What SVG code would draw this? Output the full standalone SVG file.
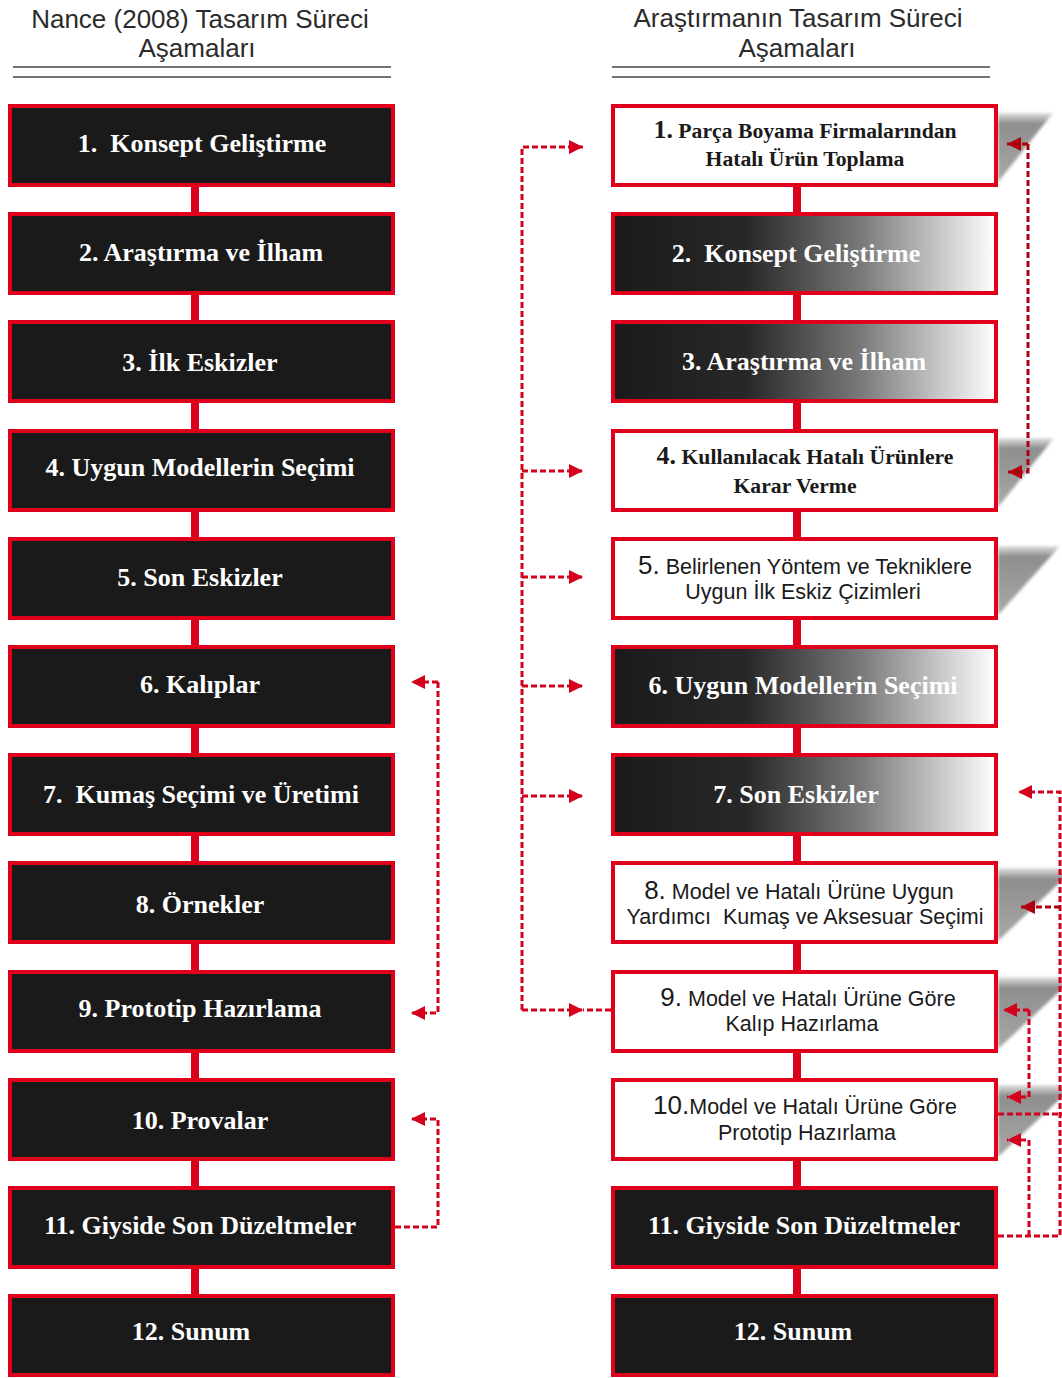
<svg xmlns="http://www.w3.org/2000/svg" width="1062" height="1378" viewBox="0 0 1062 1378">
<style>
text{white-space:pre}
.hdr{font-family:"Liberation Sans",Arial,sans-serif;font-size:26px;fill:#2b2b2b;text-anchor:middle}
.hl{stroke:#444;stroke-width:1.3}
.bx{fill:#1a1a1a;stroke:#e0001b;stroke-width:4}
.gx{fill:url(#gr);stroke:#e0001b;stroke-width:4}
.wx{fill:#fff;stroke:#e0001b;stroke-width:4}
.tw{font-family:"Liberation Serif","Times New Roman",serif;font-weight:bold;font-size:26px;fill:#fff;text-anchor:middle}
.tb{font-family:"Liberation Serif","Times New Roman",serif;font-weight:bold;font-size:21.7px;fill:#1a1a1a;text-anchor:middle}
.ts{font-family:"Liberation Sans",Arial,sans-serif;font-size:21.5px;fill:#1a1a1a;text-anchor:middle}
.big{font-size:26px}
.bar{fill:#d8001a}
.sh{fill:url(#sg);filter:url(#bl)}
.d{fill:none;stroke:#d4001c;stroke-width:3;stroke-dasharray:6 3}
.dd{fill:none;stroke:#b0000f;stroke-width:3;stroke-dasharray:6 3}
</style>
<defs>
<linearGradient id="gr" x1="0" y1="0" x2="1" y2="0">
<stop offset="0" stop-color="#1a1a1a"/>
<stop offset="0.35" stop-color="#282828"/>
<stop offset="0.65" stop-color="#7a7a7a"/>
<stop offset="1" stop-color="#ffffff"/>
</linearGradient>
<linearGradient id="sg" x1="0" y1="0" x2="0" y2="1">
<stop offset="0" stop-color="#e2e2e2"/>
<stop offset="0.15" stop-color="#8e8e8e"/>
<stop offset="1" stop-color="#a8a8a8"/>
</linearGradient>
<filter id="bl" x="-20%" y="-20%" width="140%" height="140%"><feGaussianBlur stdDeviation="1.8"/></filter>
<marker id="ar" markerUnits="userSpaceOnUse" markerWidth="14" markerHeight="14" refX="14" refY="7" orient="auto"><path d="M0,0 L14,7 L0,14 z" fill="#d4001c"/></marker>
<marker id="ard" markerUnits="userSpaceOnUse" markerWidth="14" markerHeight="14" refX="14" refY="7" orient="auto"><path d="M0,0 L14,7 L0,14 z" fill="#b0000f"/></marker>
</defs>
<rect width="1062" height="1378" fill="#fff"/>

<g id="header-left">
<text class="hdr" x="200" y="28">Nance (2008) Tasarım Süreci</text>
<text class="hdr" x="197" y="57">Aşamaları</text>
<line class="hl" x1="13" y1="67" x2="391" y2="67"/>
<line class="hl" x1="13" y1="77" x2="391" y2="77"/>
</g>
<g id="header-right">
<text class="hdr" x="798" y="27">Araştırmanın Tasarım Süreci</text>
<text class="hdr" x="797" y="57">Aşamaları</text>
<line class="hl" x1="612" y1="67" x2="990" y2="67"/>
<line class="hl" x1="612" y1="77" x2="990" y2="77"/>
</g>

<g id="L1"><rect class="bx" x="10" y="106" width="383" height="79"/><text class="tw" x="202" y="152">1.  Konsept Geliştirme</text></g>
<g id="L2"><rect class="bx" x="10" y="214" width="383" height="79"/><text class="tw" x="201" y="261">2. Araştırma ve İlham</text></g>
<g id="L3"><rect class="bx" x="10" y="322" width="383" height="79"/><text class="tw" x="200" y="371">3. İlk Eskizler</text></g>
<g id="L4"><rect class="bx" x="10" y="431" width="383" height="79"/><text class="tw" x="200" y="476">4. Uygun Modellerin Seçimi</text></g>
<g id="L5"><rect class="bx" x="10" y="539" width="383" height="79"/><text class="tw" x="200" y="586">5. Son Eskizler</text></g>
<g id="L6"><rect class="bx" x="10" y="647" width="383" height="79"/><text class="tw" x="200" y="693">6. Kalıplar</text></g>
<g id="L7"><rect class="bx" x="10" y="755" width="383" height="79"/><text class="tw" x="201" y="803">7.  Kumaş Seçimi ve Üretimi</text></g>
<g id="L8"><rect class="bx" x="10" y="863" width="383" height="79"/><text class="tw" x="200" y="913">8. Örnekler</text></g>
<g id="L9"><rect class="bx" x="10" y="972" width="383" height="79"/><text class="tw" x="200" y="1017">9. Prototip Hazırlama</text></g>
<g id="L10"><rect class="bx" x="10" y="1080" width="383" height="79"/><text class="tw" x="200" y="1129">10. Provalar</text></g>
<g id="L11"><rect class="bx" x="10" y="1188" width="383" height="79"/><text class="tw" x="200" y="1234">11. Giyside Son Düzeltmeler</text></g>
<g id="L12"><rect class="bx" x="10" y="1296" width="383" height="79"/><text class="tw" x="191" y="1340">12. Sunum</text></g>

<g id="R1"><polygon class="sh" points="998,113 1053,113 998,182"/><rect class="wx" x="613" y="106" width="383" height="79"/><text class="tb" x="805" y="138"><tspan class="big">1.</tspan> Parça Boyama Firmalarından</text><text class="tb" x="805" y="166">Hatalı Ürün Toplama</text></g>
<g id="R2"><rect class="gx" x="613" y="214" width="383" height="79"/><text class="tw" x="796" y="262">2.  Konsept Geliştirme</text></g>
<g id="R3"><rect class="gx" x="613" y="322" width="383" height="79"/><text class="tw" x="804" y="370">3. Araştırma ve İlham</text></g>
<g id="R4"><polygon class="sh" points="998,438 1054,438 998,507"/><rect class="wx" x="613" y="431" width="383" height="79"/><text class="tb" x="805" y="464"><tspan class="big">4.</tspan> Kullanılacak Hatalı Ürünlere</text><text class="tb" x="795" y="493">Karar Verme</text></g>
<g id="R5"><polygon class="sh" points="998,546 1060,546 998,615"/><rect class="wx" x="613" y="539" width="383" height="79"/><text class="ts" x="805" y="574"><tspan class="big">5.</tspan> Belirlenen Yöntem ve Tekniklere</text><text class="ts" x="803" y="599">Uygun İlk Eskiz Çizimleri</text></g>
<g id="R6"><rect class="gx" x="613" y="647" width="383" height="79"/><text class="tw" x="803" y="694">6. Uygun Modellerin Seçimi</text></g>
<g id="R7"><rect class="gx" x="613" y="755" width="383" height="79"/><text class="tw" x="796" y="803">7. Son Eskizler</text></g>
<g id="R8"><polygon class="sh" points="998,868 1075,868 998,941"/><rect class="wx" x="613" y="863" width="383" height="79"/><text class="ts" x="799" y="899"><tspan class="big">8.</tspan> Model ve Hatalı Ürüne Uygun</text><text class="ts" x="805" y="924">Yardımcı  Kumaş ve Aksesuar Seçimi</text></g>
<g id="R9"><polygon class="sh" points="998,977 1075,977 998,1049"/><rect class="wx" x="613" y="972" width="383" height="79"/><text class="ts" x="808" y="1006"><tspan class="big">9.</tspan> Model ve Hatalı Ürüne Göre</text><text class="ts" x="802" y="1031">Kalıp Hazırlama</text></g>
<g id="R10"><polygon class="sh" points="998,1085 1075,1085 998,1157"/><rect class="wx" x="613" y="1080" width="383" height="79"/><text class="ts" x="805" y="1114"><tspan class="big">10.</tspan>Model ve Hatalı Ürüne Göre</text><text class="ts" x="807" y="1140">Prototip Hazırlama</text></g>
<g id="R11"><rect class="bx" x="613" y="1188" width="383" height="79"/><text class="tw" x="804" y="1234">11. Giyside Son Düzeltmeler</text></g>
<g id="R12"><rect class="bx" x="613" y="1296" width="383" height="79"/><text class="tw" x="793" y="1340">12. Sunum</text></g>

<g id="connectors">
<rect class="bar" x="191" y="187" width="8" height="25"/>
<rect class="bar" x="191" y="295" width="8" height="25"/>
<rect class="bar" x="191" y="403" width="8" height="26"/>
<rect class="bar" x="191" y="512" width="8" height="25"/>
<rect class="bar" x="191" y="620" width="8" height="25"/>
<rect class="bar" x="191" y="728" width="8" height="25"/>
<rect class="bar" x="191" y="836" width="8" height="25"/>
<rect class="bar" x="191" y="944" width="8" height="26"/>
<rect class="bar" x="191" y="1053" width="8" height="25"/>
<rect class="bar" x="191" y="1161" width="8" height="25"/>
<rect class="bar" x="191" y="1269" width="8" height="25"/>
<rect class="bar" x="793" y="187" width="8" height="25"/>
<rect class="bar" x="793" y="295" width="8" height="25"/>
<rect class="bar" x="793" y="403" width="8" height="26"/>
<rect class="bar" x="793" y="512" width="8" height="25"/>
<rect class="bar" x="793" y="620" width="8" height="25"/>
<rect class="bar" x="793" y="728" width="8" height="25"/>
<rect class="bar" x="793" y="836" width="8" height="25"/>
<rect class="bar" x="793" y="944" width="8" height="26"/>
<rect class="bar" x="793" y="1053" width="8" height="25"/>
<rect class="bar" x="793" y="1161" width="8" height="25"/>
<rect class="bar" x="793" y="1269" width="8" height="25"/>

<path class="d" d="M438,682 H411" marker-end="url(#ar)"/>
<path class="d" d="M438,682 V1013 H411" marker-end="url(#ar)"/>
<path class="d" d="M395,1227 H438 V1119 H411" marker-end="url(#ar)"/>

<path class="d" d="M611,1010 H583"/>
<path class="d" d="M522,1010 V147 H583" marker-end="url(#ar)"/>
<path class="d" d="M522,1010 H583" marker-end="url(#ar)"/>
<path class="d" d="M522,471 H583" marker-end="url(#ar)"/>
<path class="d" d="M522,577 H583" marker-end="url(#ar)"/>
<path class="d" d="M522,686 H583" marker-end="url(#ar)"/>
<path class="d" d="M522,796 H583" marker-end="url(#ar)"/>

<path class="dd" d="M1028,144 H1007" marker-end="url(#ard)"/>
<path class="dd" d="M1028,144 V472 H1008" marker-end="url(#ard)"/>

<path class="d" d="M998,1236 H1060 V792 H1018" marker-end="url(#ar)"/>
<path class="dd" d="M1060,907 H1021" marker-end="url(#ard)"/>
<path class="d" d="M998,1114 H1062"/>
<path class="d" d="M1029,1010 H1003" marker-end="url(#ar)"/>
<path class="d" d="M1029,1010 V1097 H1007" marker-end="url(#ar)"/>
<path class="d" d="M1029,1236 V1140 H1007" marker-end="url(#ar)"/>
</g>
</svg>
